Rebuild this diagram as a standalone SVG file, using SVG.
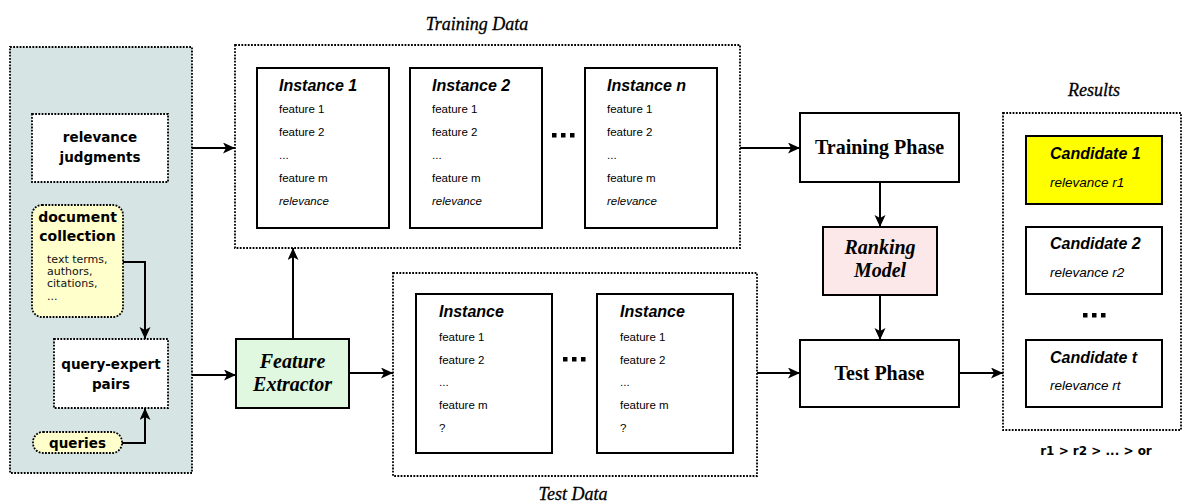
<svg xmlns="http://www.w3.org/2000/svg" width="1184" height="504" viewBox="0 0 1184 504">
<defs>
<marker id="ah" markerUnits="userSpaceOnUse" markerWidth="14" markerHeight="12" refX="12" refY="5.5" orient="auto">
<path d="M0,0 L12,5.5 L0,11 L3,5.5 z" fill="#000"/>
</marker>
<style>
.dot{stroke:#000;stroke-width:1.8;stroke-dasharray:1.8 1.4}
.solid{stroke:#000;stroke-width:2}
.lbl{font-family:"DejaVu Sans",sans-serif;font-weight:bold;font-size:13.5px;text-anchor:middle;fill:#000}
.small{font-family:"DejaVu Sans",sans-serif;font-size:11px;fill:#111}
.inst{font-family:"Liberation Sans",Arial,sans-serif;font-weight:bold;font-style:italic;font-size:16px;fill:#000}
.feat{font-family:"Liberation Sans",Arial,sans-serif;font-size:11.5px;fill:#000}
.rel{font-family:"Liberation Sans",Arial,sans-serif;font-style:italic;font-size:13.5px;fill:#000}
.it{font-style:italic}
.title{font-family:"Liberation Serif","Times New Roman",serif;font-style:italic;font-size:18px;text-anchor:middle;fill:#000;stroke:#000;stroke-width:0.3}
.phase{font-family:"Liberation Serif","Times New Roman",serif;font-weight:bold;font-size:20px;text-anchor:middle;fill:#000}
.bi{font-family:"Liberation Serif","Times New Roman",serif;font-weight:bold;font-style:italic;font-size:20px;text-anchor:middle;fill:#000}
.conn{fill:none;stroke:#000;stroke-width:2;marker-end:url(#ah)}
</style>
</defs>
<rect width="1184" height="504" fill="#fff"/>

<g id="input-panel">
<rect x="10" y="47" width="182" height="426" style="fill:#d6e4e4" class="dot"/>
</g>

<g id="relevance-judgments">
<rect x="32" y="114" width="136" height="68" style="fill:#fff" class="dot"/>
<text class="lbl" x="100" y="142">relevance</text>
<text class="lbl" x="100" y="162">judgments</text>
</g>

<g id="document-collection">
<rect x="32" y="205" width="91" height="112" rx="10" style="fill:#ffffcc" class="dot"/>
<text class="lbl" x="77.5" y="222" style="font-size:14px">document</text>
<text class="lbl" x="77.5" y="241" style="font-size:14px">collection</text>
<text class="small" x="47" y="263">text terms,</text>
<text class="small" x="47" y="275">authors,</text>
<text class="small" x="47" y="287">citations,</text>
<text class="small" x="47" y="300">...</text>
</g>

<g id="query-expert-pairs">
<rect x="54" y="339" width="114" height="69" style="fill:#fff" class="dot"/>
<text class="lbl" x="111" y="369">query-expert</text>
<text class="lbl" x="111" y="389">pairs</text>
</g>

<g id="queries">
<rect x="33" y="432" width="89" height="21" rx="10" style="fill:#ffffcc" class="dot"/>
<text class="lbl" x="77.5" y="447.5">queries</text>
</g>

<g id="feature-extractor">
<rect x="236" y="339" width="113" height="69" style="fill:#e0f8e0" class="solid"/>
<text class="bi" x="292.5" y="368">Feature</text>
<text class="bi" x="292.5" y="391">Extractor</text>
</g>

<g id="training-data">
<text class="title" x="477" y="30">Training Data</text>
<rect x="235" y="45" width="505" height="203" style="fill:#fff" class="dot"/>
</g>

<g id="instance-1">
<rect x="257" y="68" width="132" height="160" style="fill:#fff" class="solid"/>
<text class="inst" x="279" y="91">Instance 1</text>
<text class="feat" x="279" y="113">feature 1</text>
<text class="feat" x="279" y="136">feature 2</text>
<text class="feat" x="279" y="159">...</text>
<text class="feat" x="279" y="182">feature m</text>
<text class="feat it" x="279" y="205">relevance</text>
</g>

<g id="instance-2">
<rect x="410" y="68" width="132" height="160" style="fill:#fff" class="solid"/>
<text class="inst" x="432" y="91">Instance 2</text>
<text class="feat" x="432" y="113">feature 1</text>
<text class="feat" x="432" y="136">feature 2</text>
<text class="feat" x="432" y="159">...</text>
<text class="feat" x="432" y="182">feature m</text>
<text class="feat it" x="432" y="205">relevance</text>
</g>

<g id="train-ellipsis">
<rect x="552" y="133" width="4.5" height="4.5"/>
<rect x="561" y="133" width="4.5" height="4.5"/>
<rect x="570" y="133" width="4.5" height="4.5"/>
</g>

<g id="instance-n">
<rect x="585" y="68" width="132" height="160" style="fill:#fff" class="solid"/>
<text class="inst" x="607" y="91">Instance n</text>
<text class="feat" x="607" y="113">feature 1</text>
<text class="feat" x="607" y="136">feature 2</text>
<text class="feat" x="607" y="159">...</text>
<text class="feat" x="607" y="182">feature m</text>
<text class="feat it" x="607" y="205">relevance</text>
</g>

<g id="test-data">
<rect x="393" y="273" width="364" height="203" style="fill:#fff" class="dot"/>
<text class="title" x="573" y="500">Test Data</text>
</g>

<g id="test-instance-1">
<rect x="416" y="294" width="136" height="159" style="fill:#fff" class="solid"/>
<text class="inst" x="439" y="317">Instance</text>
<text class="feat" x="439" y="341">feature 1</text>
<text class="feat" x="439" y="364">feature 2</text>
<text class="feat" x="439" y="386">...</text>
<text class="feat" x="439" y="409">feature m</text>
<text class="feat" x="439" y="432">?</text>
</g>

<g id="test-ellipsis">
<rect x="563" y="357" width="4.5" height="4.5"/>
<rect x="572" y="357" width="4.5" height="4.5"/>
<rect x="581" y="357" width="4.5" height="4.5"/>
</g>

<g id="test-instance-2">
<rect x="597" y="294" width="136" height="159" style="fill:#fff" class="solid"/>
<text class="inst" x="620" y="317">Instance</text>
<text class="feat" x="620" y="341">feature 1</text>
<text class="feat" x="620" y="364">feature 2</text>
<text class="feat" x="620" y="386">...</text>
<text class="feat" x="620" y="409">feature m</text>
<text class="feat" x="620" y="432">?</text>
</g>

<g id="training-phase">
<rect x="800" y="113" width="159" height="69" style="fill:#fff" class="solid"/>
<text class="phase" x="879.5" y="154">Training Phase</text>
</g>

<g id="ranking-model">
<rect x="823" y="227" width="114" height="68" style="fill:#fce8e8" class="solid"/>
<text class="bi" x="880" y="254">Ranking</text>
<text class="bi" x="880" y="277">Model</text>
</g>

<g id="test-phase">
<rect x="800" y="340" width="159" height="67" style="fill:#fff" class="solid"/>
<text class="phase" x="879.5" y="380">Test Phase</text>
</g>

<g id="results">
<text class="title" x="1094" y="96">Results</text>
<rect x="1003" y="113" width="178" height="317" style="fill:#fff" class="dot"/>
<text class="lbl" x="1096" y="455" style="font-size:12px">r1 &gt; r2 &gt; ... &gt; or</text>
</g>

<g id="candidate-1">
<rect x="1026" y="136" width="136" height="68" style="fill:#ffff00" class="solid"/>
<text class="inst" x="1050" y="159">Candidate 1</text>
<text class="rel" x="1050" y="187">relevance r1</text>
</g>

<g id="candidate-2">
<rect x="1026" y="227" width="136" height="67" style="fill:#fff" class="solid"/>
<text class="inst" x="1050" y="249">Candidate 2</text>
<text class="rel" x="1050" y="277">relevance r2</text>
</g>

<g id="results-ellipsis">
<rect x="1083" y="313" width="4.5" height="4.5"/>
<rect x="1092" y="313" width="4.5" height="4.5"/>
<rect x="1101" y="313" width="4.5" height="4.5"/>
</g>

<g id="candidate-t">
<rect x="1026" y="340" width="136" height="67" style="fill:#fff" class="solid"/>
<text class="inst" x="1050" y="363">Candidate t</text>
<text class="rel" x="1050" y="390">relevance rt</text>
</g>

<g id="connectors">
<path class="conn" d="M192,148 H235"/>
<path class="conn" d="M192,375 H236"/>
<path class="conn" d="M123,262 H145 V339"/>
<path class="conn" d="M122,443 H145 V408"/>
<path class="conn" d="M293,339 V248"/>
<path class="conn" d="M349,373 H393"/>
<path class="conn" d="M740,148 H800"/>
<path class="conn" d="M757,373 H800"/>
<path class="conn" d="M880,182 V227"/>
<path class="conn" d="M880,295 V340"/>
<path class="conn" d="M959,373 H1003"/>
</g>
</svg>
